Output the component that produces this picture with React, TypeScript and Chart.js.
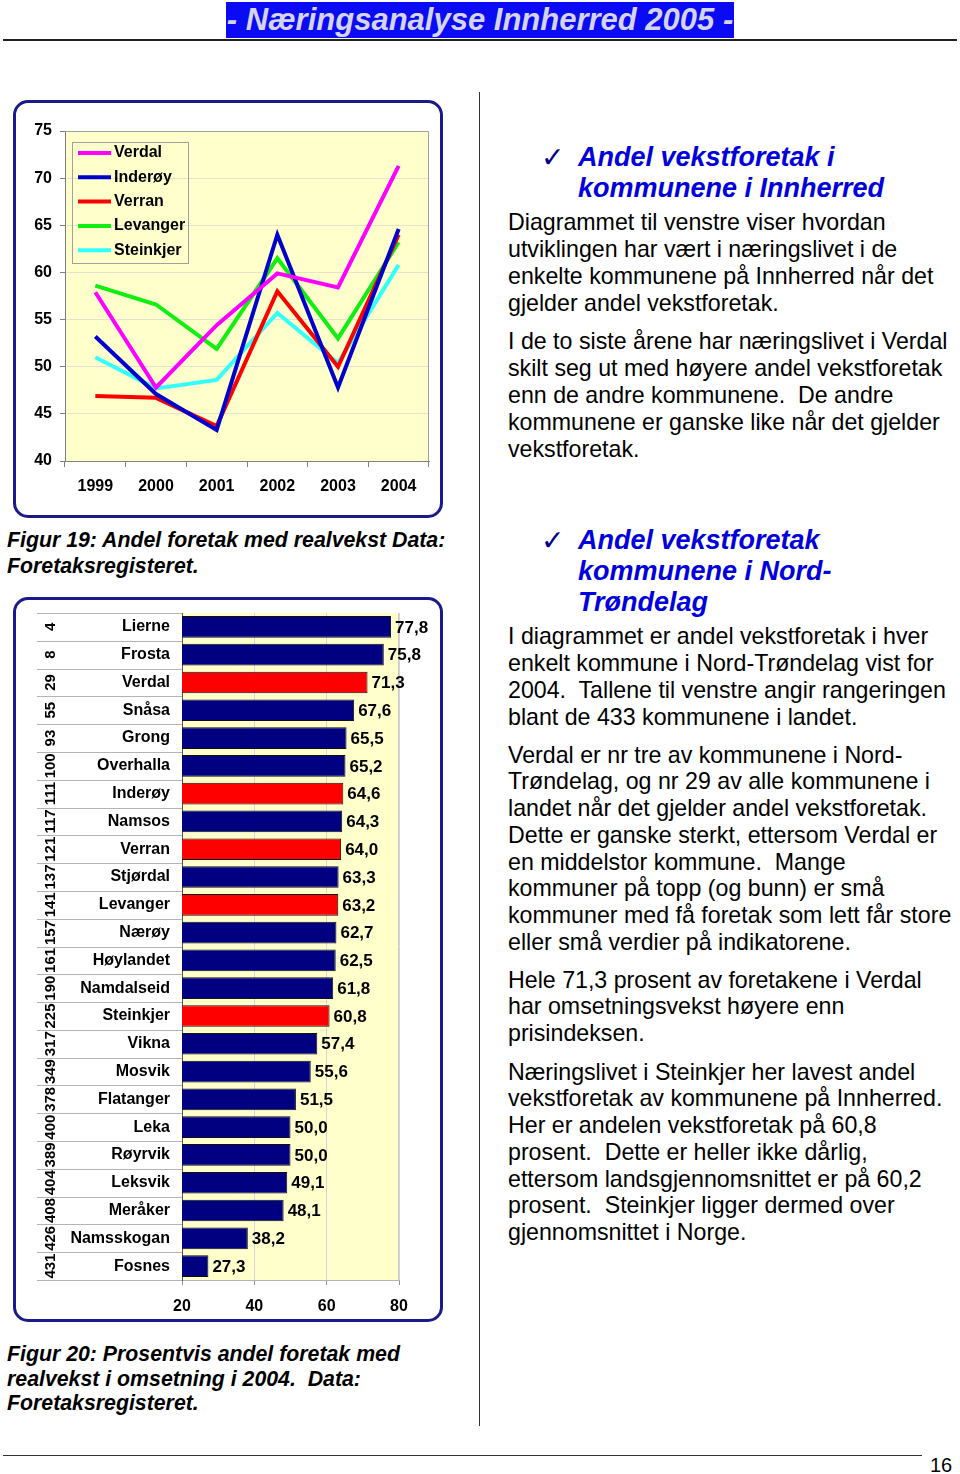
import React, { useEffect, useRef } from "react";
import { Chart, registerables } from "chart.js";
Chart.register(...registerables);

const FONT = "'Liberation Sans', Arial, Helvetica, sans-serif";

// ---- Line chart data (Figur 19) ----
const years = ["1999", "2000", "2001", "2002", "2003", "2004"];
const lineNames = ["Verdal", "Inderøy", "Verran", "Levanger", "Steinkjer"];
const verdal = [57.9, 47.8, 54.4, 59.9, 58.4, 71.3];
const inderoy = [53.2, 47.1, 43.3, 64.0, 47.8, 64.6];
const verran = [46.9, 46.7, 43.7, 58.0, 50.0, 64.0];
const levanger = [58.6, 56.6, 51.9, 61.5, 53.0, 63.2];
const steinkjer = [51.0, 47.7, 48.6, 55.7, 50.4, 60.8];
const lineColors = ["#ff00ff", "#0000cc", "#ff0000", "#11ee11", "#33ffff"];
const yTicksLine = [40, 45, 50, 55, 60, 65, 70, 75];

// ---- Bar chart data (Figur 20) ----
const kommuner = [
  "Lierne", "Frosta", "Verdal", "Snåsa", "Grong", "Overhalla", "Inderøy", "Namsos",
  "Verran", "Stjørdal", "Levanger", "Nærøy", "Høylandet", "Namdalseid", "Steinkjer",
  "Vikna", "Mosvik", "Flatanger", "Leka", "Røyrvik", "Leksvik", "Meråker", "Namsskogan", "Fosnes",
];
const rangering = [
  "4", "8", "29", "55", "93", "100", "111", "117", "121", "137", "141", "157", "161", "190",
  "225", "317", "349", "378", "400", "389", "404", "408", "426", "431",
];
const andel = [
  77.8, 75.8, 71.3, 67.6, 65.5, 65.2, 64.6, 64.3, 64.0, 63.3, 63.2, 62.7, 62.5, 61.8,
  60.8, 57.4, 55.6, 51.5, 50.0, 50.0, 49.1, 48.1, 38.2, 27.3,
];
const innherred = ["Verdal", "Inderøy", "Verran", "Levanger", "Steinkjer"];
const xTicksBar = [20, 40, 60, 80];

function LineChart() {
  const ref = useRef<HTMLCanvasElement>(null);
  useEffect(() => {
    const series = [verdal, inderoy, verran, levanger, steinkjer];
    const bgPlugin = {
      id: "bgLine",
      beforeDraw(chart: any) {
        const { ctx, chartArea: a } = chart;
        ctx.save();
        ctx.fillStyle = "#ffffcc";
        ctx.fillRect(a.left, a.top, a.right - a.left, a.bottom - a.top);
        ctx.restore();
      },
      afterDraw(chart: any) {
        const { ctx, chartArea: a } = chart;
        ctx.save();
        ctx.strokeStyle = "#a0a0a0";
        ctx.lineWidth = 1;
        ctx.beginPath();
        ctx.moveTo(a.left, a.top + 0.5);
        ctx.lineTo(a.right - 0.5, a.top + 0.5);
        ctx.lineTo(a.right - 0.5, a.bottom);
        ctx.stroke();
        // legend
        const lx = a.left + 7, ly = a.top + 11, lw = 116, lh = 121;
        ctx.strokeStyle = "#a0a0a0";
        ctx.strokeRect(lx + 0.5, ly + 0.5, lw, lh);
        ctx.font = `bold 16px ${FONT}`;
        ctx.textBaseline = "middle";
        ctx.textAlign = "left";
        chart.data.datasets.forEach((ds: any, i: number) => {
          const y = ly + 11 + i * 24.3;
          ctx.strokeStyle = ds.borderColor;
          ctx.lineWidth = 4;
          ctx.beginPath();
          ctx.moveTo(lx + 6, y);
          ctx.lineTo(lx + 39, y);
          ctx.stroke();
          ctx.fillStyle = "#000";
          ctx.fillText(ds.label, lx + 42, y);
        });
        ctx.restore();
      },
    };
    const chart = new Chart(ref.current!, {
      type: "line",
      data: {
        labels: years,
        datasets: lineNames.map((n, i) => ({
          label: n,
          data: series[i],
          borderColor: lineColors[i],
          backgroundColor: lineColors[i],
          borderWidth: 4,
          pointRadius: 0,
          tension: 0,
          fill: false,
        })),
      },
      options: {
        responsive: false,
        animation: false,
        layout: { padding: { left: 0, right: 11, top: 28, bottom: 0 } },
        plugins: { legend: { display: false }, tooltip: { enabled: false } },
        scales: {
          x: {
            offset: true,
            grid: { offset: true, drawOnChartArea: false, tickLength: 6, tickColor: "#808080", color: "#808080" },
            border: { color: "#808080" },
            ticks: { color: "#000", font: { family: FONT, size: 16, weight: "bold" }, padding: 10, maxRotation: 0 },
            afterFit(s: any) { s.height = 54; },
          },
          y: {
            min: 40,
            max: 75,
            afterBuildTicks(s: any) { s.ticks = yTicksLine.map((v) => ({ value: v })); },
            grid: { color: "#e4e4cc", tickLength: 5, tickColor: "#808080" },
            border: { color: "#808080" },
            ticks: { color: "#000", font: { family: FONT, size: 16, weight: "bold" }, padding: 8 },
            afterFit(s: any) { s.width = 49; },
          },
        },
      },
      plugins: [bgPlugin],
    } as any);
    return () => chart.destroy();
  }, []);
  return <canvas ref={ref} width={424} height={412} style={{ position: "absolute", left: 16, top: 103 }} />;
}

function BarChart() {
  const ref = useRef<HTMLCanvasElement>(null);
  useEffect(() => {
    const plugin = {
      id: "barExtras",
      beforeDraw(chart: any) {
        const { ctx, chartArea: a } = chart;
        ctx.save();
        ctx.fillStyle = "#ffffcc";
        ctx.fillRect(a.left, a.top, a.right - a.left, a.bottom - a.top);
        ctx.restore();
      },
      afterDraw(chart: any) {
        const { ctx, chartArea: a } = chart;
        const ys = chart.scales.y;
        const n = kommuner.length;
        const step = (a.bottom - a.top) / n;
        ctx.save();
        // row separators
        ctx.strokeStyle = "#b4b4b4";
        ctx.lineWidth = 1;
        for (let i = 0; i <= n; i++) {
          const yy = Math.round(a.top + i * step) + 0.5;
          ctx.beginPath();
          ctx.moveTo(21, yy);
          ctx.lineTo(a.left, yy);
          ctx.stroke();
        }
        // right edge of plot
        ctx.strokeStyle = "#c8c8c8";
        ctx.beginPath();
        ctx.moveTo(a.right - 0.5, a.top);
        ctx.lineTo(a.right - 0.5, a.bottom);
        ctx.stroke();
        // rank labels (rotated)
        ctx.fillStyle = "#000";
        ctx.font = `bold 15px ${FONT}`;
        ctx.textAlign = "center";
        ctx.textBaseline = "middle";
        rangering.forEach((r, i) => {
          const y = ys.getPixelForValue(i);
          ctx.save();
          ctx.translate(35, y);
          ctx.rotate(-Math.PI / 2);
          ctx.fillText(r, 0, 0);
          ctx.restore();
        });
        // value labels
        ctx.font = `bold 17px ${FONT}`;
        ctx.textAlign = "left";
        const meta = chart.getDatasetMeta(0);
        meta.data.forEach((el: any, i: number) => {
          ctx.fillText(andel[i].toFixed(1).replace(".", ","), el.x + 4, el.y + 1);
        });
        ctx.restore();
      },
    };
    const chart = new Chart(ref.current!, {
      type: "bar",
      data: {
        labels: kommuner,
        datasets: [
          {
            data: andel,
            backgroundColor: kommuner.map((k) => (innherred.includes(k) ? "#ff0000" : "#000080")),
            borderColor: "#111111",
            borderWidth: 1,
            barPercentage: 0.78,
            categoryPercentage: 1,
          },
        ],
      },
      options: {
        indexAxis: "y",
        responsive: false,
        animation: false,
        layout: { padding: { left: 0, right: 41, top: 13, bottom: 0 } },
        plugins: { legend: { display: false }, tooltip: { enabled: false } },
        scales: {
          x: {
            min: 20,
            max: 80,
            afterBuildTicks(s: any) { s.ticks = xTicksBar.map((v) => ({ value: v })); },
            grid: { color: "#d6d6d6", tickLength: 5, tickColor: "#909090" },
            border: { color: "#b4b4b4" },
            ticks: { color: "#000", font: { family: FONT, size: 16, weight: "bold" }, padding: 12 },
            afterFit(s: any) { s.height = 38; s.paddingLeft = 0; s.paddingRight = 0; },
          },
          y: {
            grid: { drawOnChartArea: false, drawTicks: false, color: "rgba(0,0,0,0)" },
            border: { display: true, color: "#555555" },
            ticks: { color: "#000", font: { family: FONT, size: 16, weight: "bold" }, padding: 12, autoSkip: false },
            afterFit(s: any) { s.width = 166; s.paddingTop = 0; s.paddingBottom = 0; },
          },
        },
      },
      plugins: [plugin],
    } as any);
    return () => chart.destroy();
  }, []);
  return <canvas ref={ref} width={424} height={718} style={{ position: "absolute", left: 16, top: 600 }} />;
}

function Block({ top, lh, lines, style }: { top: number; lh: number; lines: string[]; style?: any }) {
  return (
    <div style={{ position: "absolute", left: 508, top, lineHeight: `${lh}px`, whiteSpace: "pre", fontFamily: FONT, fontSize: 23.2, color: "#000", ...style }}>
      {lines.map((l, i) => (
        <div key={i}>{l}</div>
      ))}
    </div>
  );
}

function Heading({ top, lines }: { top: number; lines: string[] }) {
  return (
    <>
      <div style={{ position: "absolute", left: 541, top: top, fontFamily: "'DejaVu Sans', sans-serif", fontSize: 28, lineHeight: "31px", color: "#00008b" }}>✓</div>
      <Block top={top} lh={31} lines={lines} style={{ left: 578, fontSize: 27, fontWeight: "bold", fontStyle: "italic", color: "#0000dd" }} />
    </>
  );
}

export default function App() {
  const boxStyle: any = {
    position: "absolute",
    left: 13,
    border: "3px solid #1a1a8a",
    borderRadius: 15,
    background: "#fff",
    boxSizing: "border-box",
    width: 430,
  };
  const caption: any = {
    position: "absolute",
    left: 7,
    fontFamily: FONT,
    fontWeight: "bold",
    fontStyle: "italic",
    fontSize: 21.3,
    whiteSpace: "pre",
    color: "#000",
  };
  return (
    <div style={{ position: "absolute", left: 0, top: 0, width: 960, height: 1474, background: "#fff", overflow: "hidden" }}>
      {/* header */}
      <div style={{ position: "absolute", left: 226, top: 2, width: 508, height: 36, background: "#0a0af5" }} />
      <div style={{ position: "absolute", left: 206, top: 2, width: 548, height: 36, lineHeight: "36px", textAlign: "center", fontFamily: FONT, fontWeight: "bold", fontStyle: "italic", fontSize: 31, color: "#d4d4ee", whiteSpace: "pre" }}>
        - Næringsanalyse Innherred 2005 -
      </div>
      <div style={{ position: "absolute", left: 3, top: 39, width: 954, height: 2, background: "#222" }} />
      {/* vertical separator */}
      <div style={{ position: "absolute", left: 479, top: 92, width: 1, height: 1334, background: "#333" }} />

      {/* chart boxes */}
      <div style={{ ...boxStyle, top: 100, height: 418 }} />
      <LineChart />
      <div style={{ ...caption, top: 527, lineHeight: "26px" }}>
        <div>Figur 19: Andel foretak med realvekst Data:</div>
        <div>Foretaksregisteret.</div>
      </div>

      <div style={{ ...boxStyle, top: 597, height: 725 }} />
      <BarChart />
      <div style={{ ...caption, top: 1342, lineHeight: "24.5px" }}>
        <div>Figur 20: Prosentvis andel foretak med</div>
        <div>realvekst i omsetning i 2004.  Data:</div>
        <div>Foretaksregisteret.</div>
      </div>

      {/* right column */}
      <Heading top={141.5} lines={["Andel vekstforetak i", "kommunene i Innherred"]} />
      <Block top={208.5} lh={27} lines={["Diagrammet til venstre viser hvordan", "utviklingen har vært i næringslivet i de", "enkelte kommunene på Innherred når det", "gjelder andel vekstforetak."]} />
      <Block top={327.5} lh={27} lines={["I de to siste årene har næringslivet i Verdal", "skilt seg ut med høyere andel vekstforetak", "enn de andre kommunene.  De andre", "kommunene er ganske like når det gjelder", "vekstforetak."]} />

      <Heading top={524.5} lines={["Andel vekstforetak", "kommunene i Nord-", "Trøndelag"]} />
      <Block top={622.5} lh={27} lines={["I diagrammet er andel vekstforetak i hver", "enkelt kommune i Nord-Trøndelag vist for", "2004.  Tallene til venstre angir rangeringen", "blant de 433 kommunene i landet."]} />
      <Block top={741.5} lh={26.8} lines={["Verdal er nr tre av kommunene i Nord-", "Trøndelag, og nr 29 av alle kommunene i", "landet når det gjelder andel vekstforetak.", "Dette er ganske sterkt, ettersom Verdal er", "en middelstor kommune.  Mange", "kommuner på topp (og bunn) er små", "kommuner med få foretak som lett får store", "eller små verdier på indikatorene."]} />
      <Block top={966.5} lh={26.6} lines={["Hele 71,3 prosent av foretakene i Verdal", "har omsetningsvekst høyere enn", "prisindeksen."]} />
      <Block top={1058.5} lh={26.8} lines={["Næringslivet i Steinkjer her lavest andel", "vekstforetak av kommunene på Innherred.", "Her er andelen vekstforetak på 60,8", "prosent.  Dette er heller ikke dårlig,", "ettersom landsgjennomsnittet er på 60,2", "prosent.  Steinkjer ligger dermed over", "gjennomsnittet i Norge."]} />

      {/* footer */}
      <div style={{ position: "absolute", left: 3, top: 1455, width: 919, height: 1, background: "#333" }} />
      <div style={{ position: "absolute", left: 930, top: 1453, fontFamily: FONT, fontSize: 20, lineHeight: "24px", color: "#000" }}>16</div>
    </div>
  );
}
